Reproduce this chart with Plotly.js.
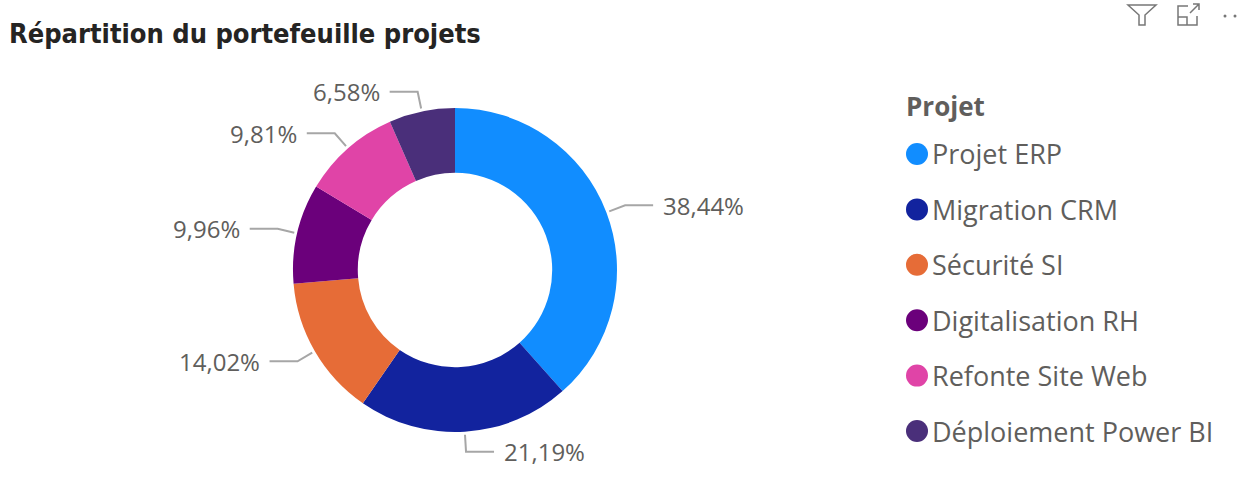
<!DOCTYPE html>
<html><head><meta charset="utf-8">
<script src="https://cdn.plot.ly/plotly-3.0.1.min.js"></script>
<style>html,body{margin:0;padding:0;background:#fff;}#chart{width:1240px;height:484px;}</style>
</head><body><div id="chart"></div>
<script>
const categories = ["Projet ERP","Migration CRM","Sécurité SI","Digitalisation RH","Refonte Site Web","Déploiement Power BI"];
const shares = [38.44, 21.19, 14.02, 9.96, 9.81, 6.58];
const colors = ["#118DFF","#12239E","#E66C37","#6B007B","#E044A7","#4A2F7A"];
const legendTitle = "Projet";
const chartTitle = "Répartition du portefeuille projets";

const W = 1240, H = 484;
const cx = 455, cy = 270, R = 162;
const px = x => x / W;
const py = y => 1 - y / H;

const fmt = v => v.toFixed(2).replace('.', ',') + '%';

const shapes = [];
const annotations = [];

// data labels with leader lines, computed from the values
const total = shares.reduce((a,b)=>a+b,0);
let cum = 0;
shares.forEach((v,i)=>{
  const mid = (cum + v/2) / total * 2*Math.PI;
  cum += v;
  const s = Math.sin(mid), c = Math.cos(mid);
  const x0 = cx + (R+3)*s, y0 = cy - (R+3)*c;
  const x1 = cx + (R+20)*s, y1 = cy - (R+20)*c;
  const right = s >= 0;
  const x2 = x1 + (right ? 28 : -28);
  shapes.push({type:'path', xref:'paper', yref:'paper',
    path:`M${px(x0)},${py(y0)} L${px(x1)},${py(y1)} L${px(x2)},${py(y1)}`,
    line:{color:'#A6A6A6', width:2}});
  annotations.push({xref:'paper', yref:'paper', x:px(x2 + (right?8:-8)), y:py(y1),
    xanchor: right?'left':'right', yanchor:'middle', showarrow:false,
    text: fmt(v), font:{family:'Open Sans, Segoe UI, sans-serif', size:24, color:'#605E5C'}});
});

// custom legend
annotations.push({xref:'paper', yref:'paper', x:px(904), y:py(106), xanchor:'left', yanchor:'middle',
  showarrow:false, text:'<b>'+legendTitle+'</b>', font:{family:'Open Sans, Segoe UI, sans-serif', size:26, color:'#605E5C'}});
categories.forEach((cat,i)=>{
  const yc = 154 + i*55.4;
  shapes.push({type:'circle', xref:'paper', yref:'paper',
    x0:px(906), x1:px(928), y0:py(yc-11), y1:py(yc+11),
    fillcolor:colors[i], line:{width:0}});
  annotations.push({xref:'paper', yref:'paper', x:px(930), y:py(yc), xanchor:'left', yanchor:'middle',
    showarrow:false, text:cat, font:{family:'Open Sans, Segoe UI, sans-serif', size:27, color:'#605E5C'}});
});

// header icons (filter, focus, more)
const ic = {color:'#777', width:1.5};
shapes.push({type:'path', xref:'paper', yref:'paper',
  path:`M${px(1128)},${py(5)} L${px(1156)},${py(5)} L${px(1145)},${py(15)} L${px(1145)},${py(25)} L${px(1139)},${py(25)} L${px(1139)},${py(15)} Z`, line:ic});
shapes.push({type:'path', xref:'paper', yref:'paper',
  path:`M${px(1188)},${py(6)} L${px(1178)},${py(6)} L${px(1178)},${py(25)} L${px(1197)},${py(25)} L${px(1197)},${py(16)} M${px(1178)},${py(17)} L${px(1187)},${py(17)} L${px(1187)},${py(25)} M${px(1190)},${py(13)} L${px(1199)},${py(4)} M${px(1193)},${py(4)} L${px(1199)},${py(4)} L${px(1199)},${py(10)}`, line:ic});
[1225,1235].forEach(x=>shapes.push({type:'circle', xref:'paper', yref:'paper',
  x0:px(x-1.5), x1:px(x+1.5), y0:py(14.5), y1:py(17.5), fillcolor:'#777', line:{width:0}}));

const trace = {
  type:'pie', labels:categories, values:shares, hole:0.6, sort:false, direction:'clockwise', rotation:0,
  marker:{colors:colors, line:{width:0}}, textinfo:'none', hoverinfo:'label+percent',
  domain:{x:[px(cx-R), px(cx+R)], y:[py(cy+R), py(cy-R)]}
};

const layout = {
  width:W, height:H, margin:{l:0,r:0,t:0,b:0}, showlegend:false,
  paper_bgcolor:'#fff', plot_bgcolor:'#fff',
  title:{text:'<b>'+chartTitle+'</b>', x:px(9), xanchor:'left', y:py(34), yanchor:'middle',
    font:{family:'DejaVu Sans Condensed, DejaVu Sans, sans-serif', size:27, color:'#252423'}},
  shapes:shapes, annotations:annotations
};
Plotly.newPlot('chart',[trace],layout,{displayModeBar:false, staticPlot:true});
</script></body></html>
